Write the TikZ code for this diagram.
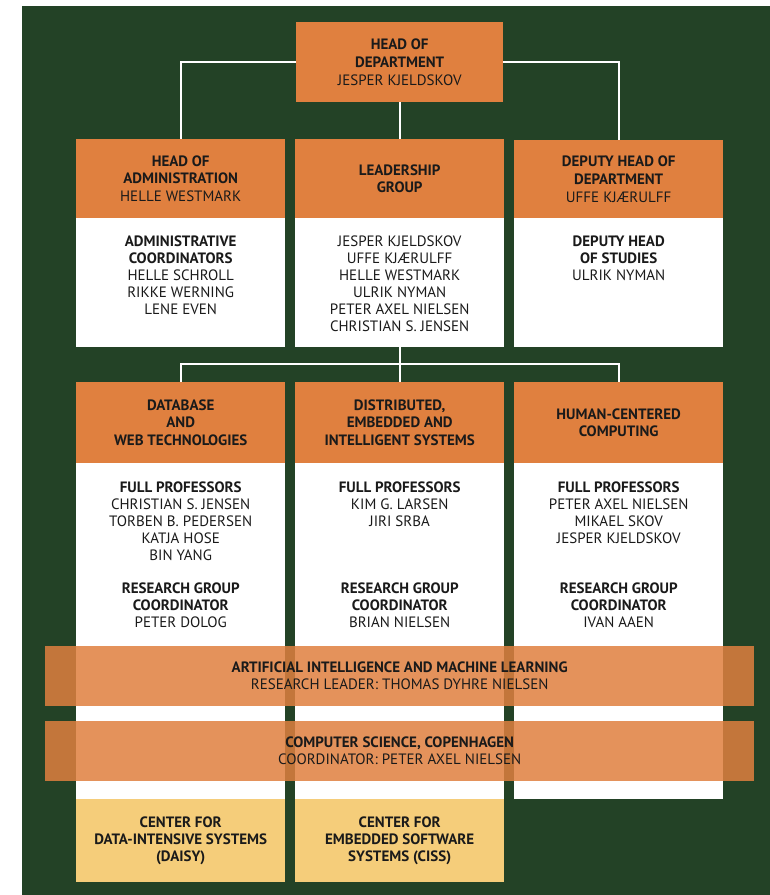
\documentclass[tikz,border=0pt]{standalone}
\usepackage{fontspec}
\setmainfont{PT Sans}
\usetikzlibrary{positioning}
\definecolor{bggreen}{HTML}{234226}
\definecolor{deptorange}{HTML}{E0803F}
\definecolor{centeryellow}{HTML}{F5CD7A}
\definecolor{ink}{HTML}{1A1A1A}
\begin{document}
\begin{tikzpicture}[x=1pt, y=-1pt,
    orgtext/.style={align=center, text=ink, font=\fontsize{15}{17}\selectfont},
    headbox/.style={orgtext, font=\fontsize{15}{17.6}\selectfont, anchor=north west, fill=deptorange, inner sep=0pt, minimum width=209pt, minimum height=79pt},
    bodybox/.style={anchor=north west, fill=white, inner sep=0pt, minimum width=209pt},
    names/.style={orgtext, anchor=north, inner sep=0pt},
    band/.style={orgtext, anchor=north west, fill=deptorange, fill opacity=0.85, text opacity=1, inner sep=0pt, minimum width=709pt, minimum height=60pt},
    centerbox/.style={orgtext, anchor=north west, fill=centeryellow, inner sep=0pt, minimum width=209pt, minimum height=83pt},
    link/.style={draw=white, line width=1.6pt}]
    \useasboundingbox (0,0) rectangle (770,895);
    \fill[bggreen] (22,6) rectangle (770,895);

    % top
    \node[headbox, minimum width=207pt, minimum height=80pt] (head) at (296,22) {\textbf{HEAD OF}\\\textbf{DEPARTMENT}\\JESPER KJELDSKOV};

    % second row
    \node[headbox] (admhead) at (76,139) {\textbf{HEAD OF}\\\textbf{ADMINISTRATION}\\HELLE WESTMARK};
    \node[headbox] (leadhead) at (295,139) {\textbf{LEADERSHIP}\\\textbf{GROUP}};
    \node[headbox, minimum height=78pt] (dephead) at (514,140) {\textbf{DEPUTY HEAD OF}\\\textbf{DEPARTMENT}\\UFFE KJÆRULFF};
    \node[bodybox, minimum height=129pt] (admbody) at (76,218) {};
    \node[bodybox, minimum height=129pt] (leadbody) at (295,218) {};
    \node[bodybox, minimum height=129pt] (depbody) at (514,218) {};
    \node[names, below=18pt of admbody.north] (admtext) {\textbf{ADMINISTRATIVE}\\\textbf{COORDINATORS}\\HELLE SCHROLL\\RIKKE WERNING\\LENE EVEN};
    \node[names, below=18pt of leadbody.north] (leadtext) {JESPER KJELDSKOV\\UFFE KJÆRULFF\\HELLE WESTMARK\\ULRIK NYMAN\\PETER AXEL NIELSEN\\CHRISTIAN S. JENSEN};
    \node[names, below=18pt of depbody.north] (deptext) {\textbf{DEPUTY HEAD}\\\textbf{OF STUDIES}\\ULRIK NYMAN};

    % research sections
    \node[headbox, minimum height=81pt] (dbhead) at (76,382) {\textbf{DATABASE}\\\textbf{AND}\\\textbf{WEB TECHNOLOGIES}};
    \node[headbox, minimum height=81pt] (deshead) at (295,382) {\textbf{DISTRIBUTED,}\\\textbf{EMBEDDED AND}\\\textbf{INTELLIGENT SYSTEMS}};
    \node[headbox, minimum height=81pt] (hcchead) at (514,382) {\textbf{HUMAN-CENTERED}\\\textbf{COMPUTING}};
    \node[bodybox, minimum height=336pt] (dbbody) at (76,463) {};
    \node[bodybox, minimum height=336pt] (desbody) at (295,463) {};
    \node[bodybox, minimum height=336pt] (hccbody) at (514,463) {};
    \node[names, below=19pt of dbbody.north] (dbprofs) {\textbf{FULL PROFESSORS}\\CHRISTIAN S. JENSEN\\TORBEN B. PEDERSEN\\KATJA HOSE\\BIN YANG};
    \node[names, below=19pt of desbody.north] (desprofs) {\textbf{FULL PROFESSORS}\\KIM G. LARSEN\\JIRI SRBA};
    \node[names, below=19pt of hccbody.north] (hccprofs) {\textbf{FULL PROFESSORS}\\PETER AXEL NIELSEN\\MIKAEL SKOV\\JESPER KJELDSKOV};
    \node[names, below=120pt of dbbody.north] (dbcoord) {\textbf{RESEARCH GROUP}\\\textbf{COORDINATOR}\\PETER DOLOG};
    \node[names, below=120pt of desbody.north] (descoord) {\textbf{RESEARCH GROUP}\\\textbf{COORDINATOR}\\BRIAN NIELSEN};
    \node[names, below=120pt of hccbody.north] (hcccoord) {\textbf{RESEARCH GROUP}\\\textbf{COORDINATOR}\\IVAN AAEN};

    % centers
    \node[centerbox] (daisy) at (76,799) {\textbf{CENTER FOR}\\\textbf{DATA-INTENSIVE SYSTEMS}\\\textbf{(DAISY)}};
    \node[centerbox] (ciss) at (295,799) {\textbf{CENTER FOR}\\\textbf{EMBEDDED SOFTWARE}\\\textbf{SYSTEMS (CISS)}};

    % cross-cutting
    \node[band] (aiband) at (45,646) {\textbf{ARTIFICIAL INTELLIGENCE AND MACHINE LEARNING}\\RESEARCH LEADER: THOMAS DYHRE NIELSEN};
    \node[band] (csband) at (45,721) {\textbf{COMPUTER SCIENCE, COPENHAGEN}\\COORDINATOR: PETER AXEL NIELSEN};

    \coordinate (fork) at (399.5,364);
    \draw[link] (head.west) -| (admhead.north);
    \draw[link] (head.east) -| (dephead.north);
    \draw[link] (head.south) -- (leadhead.north);
    \draw[link] (leadbody.south) -- (deshead.north);
    \draw[link] (fork) -| (dbhead.north);
    \draw[link] (fork) -| (hcchead.north);
\end{tikzpicture}
\end{document}
